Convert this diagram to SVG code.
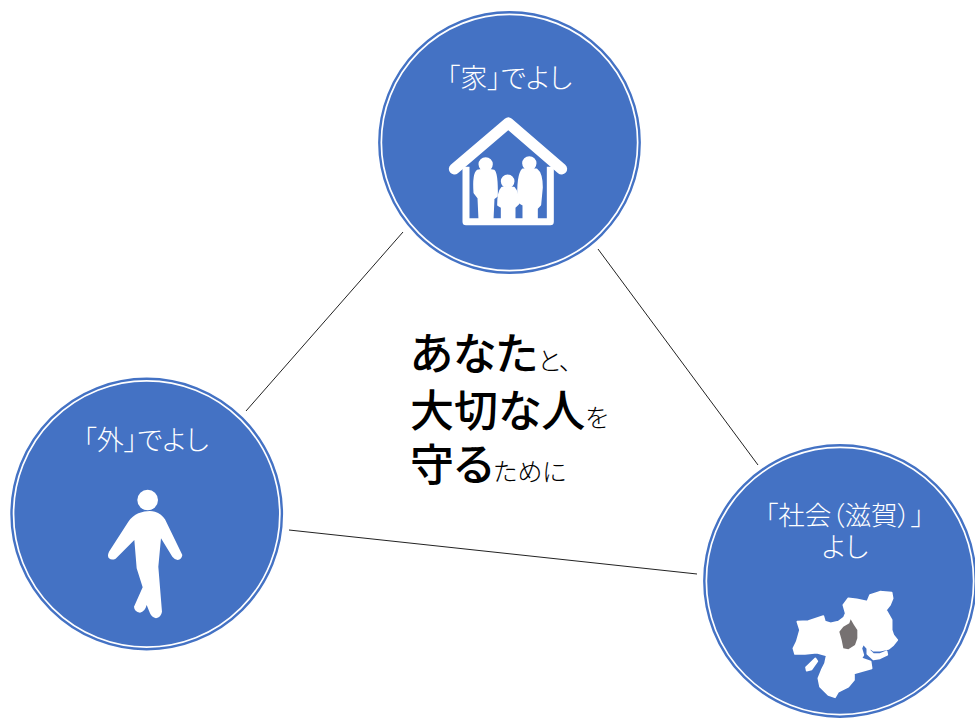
<svg xmlns="http://www.w3.org/2000/svg" width="975" height="718" viewBox="0 0 975 718">
<style>
.disc{fill:#4472c4;stroke:#fff;stroke-width:2.6}
.rim{fill:none;stroke:#4472c4;stroke-width:2.4}
.lab{font-family:"Noto Sans CJK JP","Noto Sans",sans-serif;font-size:27px;font-weight:300;fill:#fff;font-feature-settings:"palt";text-anchor:middle}
.ink{fill:#fff}
.fat{fill:#fff;stroke:#fff;stroke-width:5;stroke-linejoin:round}
.big{font-family:"Noto Sans CJK JP",sans-serif;font-weight:500;font-size:44px;fill:#000;font-feature-settings:"palt"}
.sm{font-size:25px;font-weight:300}
.con{stroke:#222;stroke-width:1;fill:none}
</style>
<rect width="975" height="718" fill="#fff"/>
<g id="connectors">
<line class="con" x1="403" y1="232" x2="246" y2="411"/>
<line class="con" x1="598" y1="249" x2="758" y2="465"/>
<line class="con" x1="289" y1="530" x2="697" y2="574"/>
</g>
<g id="node-home">
<circle class="disc" cx="509.5" cy="142.5" r="128.6"/><circle class="rim" cx="509.5" cy="142.5" r="130.2"/>
<text class="lab" x="509.5" y="88">「家」でよし</text>
<g transform="translate(440 110) scale(.3333)">
<path d="M43 177L205 39L365 177" fill="none" stroke="#fff" stroke-width="33" stroke-linecap="round" stroke-linejoin="round"/>
<path d="M78 170V335H331V170" fill="none" stroke="#fff" stroke-width="21" stroke-linejoin="round"/>
<g class="fat">
<circle cx="137" cy="163" r="19"/><path d="M112 182Q137 176 162 182Q172 190 171 258L161 266L158 330H118L115 264L103 248Q99 192 112 182Z"/>
<circle cx="203" cy="214" r="18"/><path d="M186 233H222Q234 245 235 282L224 292V330H185V292L174 285Q174 245 186 233Z"/>
<circle cx="268" cy="160" r="19"/><path d="M248 178H290Q306 190 306 232L301 285L291 295V330H250V285L235 276Q231 195 248 178Z"/>
</g>
</g>
</g>
<g id="node-outside">
<circle class="disc" cx="146.7" cy="514" r="133.6"/><circle class="rim" cx="146.7" cy="514" r="135.2"/>
<text class="lab" x="146" y="450">「外」でよし</text>
<g transform="translate(95 480) scale(.3333)" class="ink">
<circle cx="158" cy="60" r="31"/>
<path d="M130 100Q158 90 180 95Q200 102 210 118L262 225Q260 238 248 240Q238 238 232 230L198 175L190 260L201 395Q198 412 183 415Q170 412 165 400L155 375Q150 395 135 398Q118 395 117 380L143 322L125 265L118 180L62 236Q50 242 42 235Q36 228 42 215L100 125Q112 108 130 100Z"/>
</g>
</g>
<g id="node-society">
<circle class="disc" cx="840" cy="581" r="134.1"/><circle class="rim" cx="840" cy="581" r="135.7"/>
<text class="lab" x="844.5" y="525" style="font-size:26.5px">「社会（滋賀）」</text>
<text class="lab" x="845" y="557">よし</text>
<g transform="translate(780 580) scale(.3333)">
<path class="fat" d="M52 125L85 123L130 108L135 125L152 130L175 125L192 112L197 100L190 75L205 55L230 58L262 65L270 45L300 35L335 38L338 55L330 75L318 90L335 120L335 150L340 165L352 180L340 195L325 207L300 212L280 212L272 205L268 210L280 222L300 222L320 214L322 224L300 235L280 238L262 222L262 205L250 192L244 205L250 225L244 235L272 245L275 265L222 280L222 300L205 320L175 335L165 352L145 345L120 320L115 295L125 270L135 250L140 226L110 218L75 222L45 222L40 205L50 185L60 150Z"/>
<path class="fat" d="M106 235L112 244L95 268L80 272L78 262Z"/>
<path fill="#767171" d="M212 118L222 135L232 150L232 175L225 195L205 208L190 205L185 180L178 155L190 140L208 130Z"/>
</g>
</g>
<g id="node-center">
<text class="big" x="410" y="370">あなた<tspan class="sm">と、</tspan></text>
<text class="big" x="410" y="427">大切な人<tspan class="sm">を</tspan></text>
<text class="big" x="410" y="481">守る<tspan class="sm">ために</tspan></text>
</g>
</svg>
